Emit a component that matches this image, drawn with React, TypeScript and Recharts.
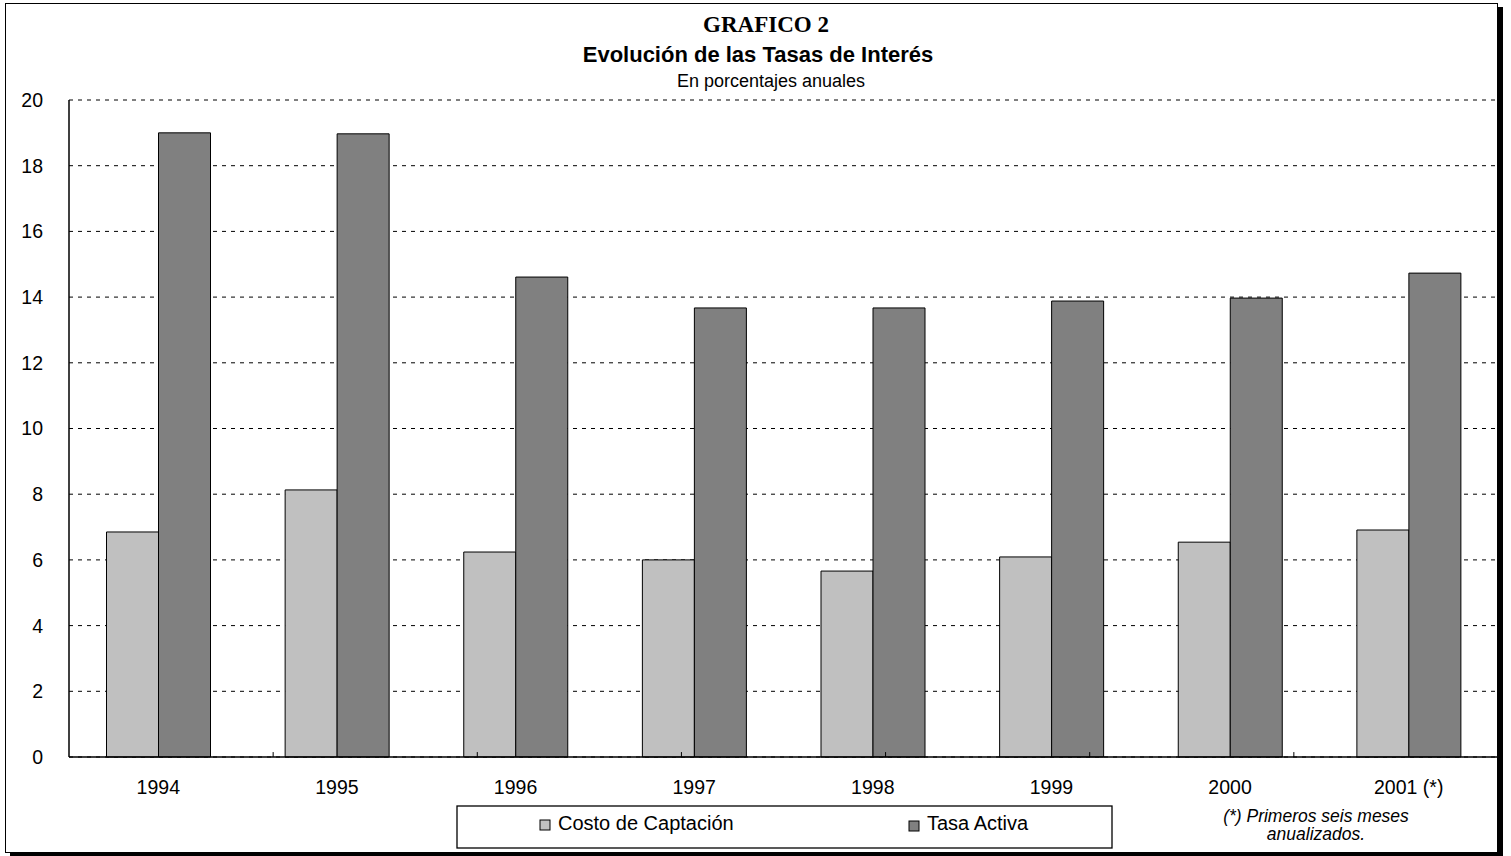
import React from 'react';
import { BarChart, Bar, XAxis, YAxis, CartesianGrid, ReferenceLine } from 'recharts';

const years = ['1994', '1995', '1996', '1997', '1998', '1999', '2000', '2001 (*)'];
const costoCaptacion = [6.85, 8.13, 6.24, 6.0, 5.66, 6.09, 6.54, 6.91];
const tasaActiva = [19.0, 18.97, 14.61, 13.67, 13.67, 13.88, 13.97, 14.73];
const yTicks = [0, 2, 4, 6, 8, 10, 12, 14, 16, 18, 20];
const categoryBoundaries = [1, 2, 3, 4, 5, 6, 7];
const seriesNames = ['Costo de Captación', 'Tasa Activa'];
const seriesColors = ['#c0c0c0', '#808080'];
const titleLines = ['GRAFICO 2', 'Evolución de las Tasas de Interés', 'En porcentajes anuales'];
const footnoteLines = ['(*) Primeros seis meses', 'anualizados.'];

const data = years.map((year, i) => ({ year, costo: costoCaptacion[i], tasa: tasaActiva[i] }));

const SANS = '"Liberation Sans", Arial, Helvetica, sans-serif';
const SERIF = '"Liberation Serif", "Times New Roman", serif';

export default function App() {
  const tickStyle = { fill: '#000', fontSize: 19.5, fontFamily: SANS };
  return (
    <div style={{ position: 'relative', width: 1511, height: 856, background: '#fff' }}>
      <style>{`body{margin:0;}`}</style>
      <div
        style={{
          position: 'absolute',
          left: 5,
          top: 3,
          width: 1493,
          height: 850,
          boxSizing: 'border-box',
          border: '1.5px solid #000',
          boxShadow: '5px 4px 0 #000',
          background: '#fff',
        }}
      />
      <div style={{ position: 'absolute', left: 0, top: 0 }}>
        <BarChart
          width={1511}
          height={856}
          data={data}
          margin={{ top: 100, right: 13, bottom: 69, left: 9 }}
          barCategoryGap="21%"
          barGap={0}
        >
          <CartesianGrid vertical={false} stroke="#000" strokeDasharray="4 5" strokeWidth={1} />
          <XAxis
            dataKey="year"
            height={30}
            interval={0}
            axisLine={{ stroke: '#000', strokeWidth: 1.5 }}
            tickLine={false}
            tickSize={6}
            tickMargin={17}
            tick={tickStyle}
          />
          <XAxis xAxisId="b" type="number" domain={[0, 8]} hide />
          <YAxis
            width={60}
            domain={[0, 20]}
            ticks={yTicks}
            interval={0}
            axisLine={{ stroke: '#000', strokeWidth: 1.5 }}
            tickLine={false}
            tickSize={6}
            tickMargin={20}
            tick={tickStyle}
          />
          {categoryBoundaries.map((b) => (
            <ReferenceLine
              key={b}
              xAxisId="b"
              segment={[
                { x: b, y: 0 },
                { x: b, y: 0.15 },
              ]}
              stroke="#000"
              strokeWidth={1}
            />
          ))}
          <Bar dataKey="costo" name={seriesNames[0]} fill={seriesColors[0]} stroke="#000" strokeWidth={1} isAnimationActive={false} />
          <Bar dataKey="tasa" name={seriesNames[1]} fill={seriesColors[1]} stroke="#000" strokeWidth={1} isAnimationActive={false} />
        </BarChart>
      </div>
      <svg
        width={1511}
        height={856}
        style={{ position: 'absolute', left: 0, top: 0, pointerEvents: 'none' }}
      >
        <text x={766} y={32} textAnchor="middle" fontFamily={SERIF} fontWeight="bold" fontSize={23} fill="#000">
          {titleLines[0]}
        </text>
        <text x={758} y={62} textAnchor="middle" fontFamily={SANS} fontWeight="bold" fontSize={22} fill="#000">
          {titleLines[1]}
        </text>
        <text x={771} y={87} textAnchor="middle" fontFamily={SANS} fontSize={18} fill="#000">
          {titleLines[2]}
        </text>

        <rect x={457} y={806} width={655} height={42} fill="#fff" stroke="#000" strokeWidth={1.3} />
        <rect x={540} y={820} width={10} height={10} fill={seriesColors[0]} stroke="#000" strokeWidth={1} />
        <text x={558} y={830} fontFamily={SANS} fontSize={20} fill="#000">
          {seriesNames[0]}
        </text>
        <rect x={909} y={821} width={10} height={10} fill={seriesColors[1]} stroke="#000" strokeWidth={1} />
        <text x={927} y={830} fontFamily={SANS} fontSize={20} fill="#000">
          {seriesNames[1]}
        </text>

        <text x={1316} y={822} textAnchor="middle" fontFamily={SANS} fontStyle="italic" fontSize={17.5} fill="#000">
          {footnoteLines[0]}
        </text>
        <text x={1316} y={840} textAnchor="middle" fontFamily={SANS} fontStyle="italic" fontSize={17.5} fill="#000">
          {footnoteLines[1]}
        </text>
      </svg>
    </div>
  );
}
